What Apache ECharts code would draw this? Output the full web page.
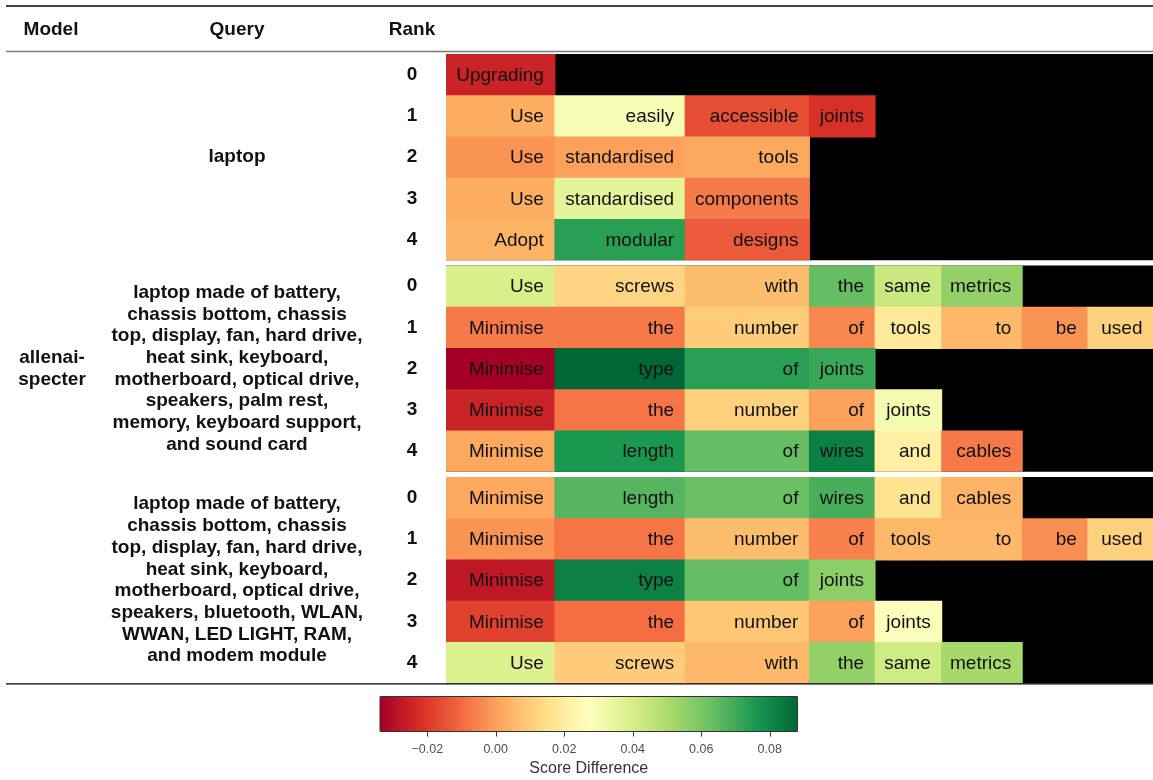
<!DOCTYPE html>
<html>
<head>
<meta charset="utf-8">
<script src="https://cdn.jsdelivr.net/npm/echarts@6/dist/echarts.min.js"></script>
<style>
html,body{margin:0;padding:0;background:#fff;}
#chart{width:1153px;height:780px;}
</style>
</head>
<body>
<div id="chart"></div>
<script>
// ---------------- DATA ----------------
const headers = ['Model', 'Query', 'Rank'];
const modelName = 'allenai-\nspecter';
const queries = [
  'laptop',
  'laptop made of battery,\nchassis bottom, chassis\ntop, display, fan, hard drive,\nheat sink, keyboard,\nmotherboard, optical drive,\nspeakers, palm rest,\nmemory, keyboard support,\nand sound card',
  'laptop made of battery,\nchassis bottom, chassis\ntop, display, fan, hard drive,\nheat sink, keyboard,\nmotherboard, optical drive,\nspeakers, bluetooth, WLAN,\nWWAN, LED LIGHT, RAM,\nand modem module'
];
const ranks = ['0', '1', '2', '3', '4'];

const words1 = [
  ['Upgrading'],
  ['Use', 'easily', 'accessible', 'joints'],
  ['Use', 'standardised', 'tools'],
  ['Use', 'standardised', 'components'],
  ['Adopt', 'modular', 'designs']
];
const scores1 = [
  [-0.025],
  [0.0028, 0.0296, -0.0155, -0.0216],
  [-0.0021, 0.0003, 0.0016],
  [0.0028, 0.0357, -0.0070],
  [0.0040, 0.0735, -0.0130]
];
const words2 = [
  ['Use', 'screws', 'with', 'the', 'same', 'metrics'],
  ['Minimise', 'the', 'number', 'of', 'tools', 'to', 'be', 'used'],
  ['Minimise', 'type', 'of', 'joints'],
  ['Minimise', 'the', 'number', 'of', 'joints'],
  ['Minimise', 'length', 'of', 'wires', 'and', 'cables']
];
const scores2 = [
  [0.0393, 0.0125, 0.0064, 0.0637, 0.0430, 0.0552],
  [-0.0070, -0.0070, 0.0100, -0.0046, 0.0186, 0.0052, -0.0021, 0.0113],
  [-0.0338, 0.0881, 0.0735, 0.0710],
  [-0.0250, -0.0080, 0.0113, 0.0003, 0.0308],
  [0.0016, 0.0760, 0.0637, 0.0820, 0.0210, -0.0070]
];
const words3 = [
  ['Minimise', 'length', 'of', 'wires', 'and', 'cables'],
  ['Minimise', 'the', 'number', 'of', 'tools', 'to', 'be', 'used'],
  ['Minimise', 'type', 'of', 'joints'],
  ['Minimise', 'the', 'number', 'of', 'joints'],
  ['Use', 'screws', 'with', 'the', 'same', 'metrics']
];
const scores3 = [
  [0.0016, 0.0662, 0.0625, 0.0686, 0.0162, 0.0040],
  [-0.0021, -0.0080, 0.0064, -0.0058, 0.0052, 0.0052, -0.0033, 0.0113],
  [-0.0277, 0.0820, 0.0637, 0.0564],
  [-0.0180, -0.0094, 0.0089, 0.0003, 0.0280],
  [0.0380, 0.0100, 0.0052, 0.0552, 0.0418, 0.0515]
];
const scoreMin = -0.0338, scoreMax = 0.0881;
const legendTicks = [-0.02, 0, 0.02, 0.04, 0.06, 0.08];
const legendTitle = 'Score Difference';

// ---------------- LAYOUT / STYLE ----------------
const FONT = '"Liberation Sans", Arial, Helvetica, sans-serif';
const TXT = '#111';
const palette = ['#a50026','#d73027','#f46d43','#fdae61','#fee08b','#ffffbf','#d9ef8b','#a6d96a','#66bd63','#1a9850','#006837'];
const colWidths = [109, 131, 125, 66, 67, 81, 66, 66];
const colEdges = [0];
colWidths.forEach(w => colEdges.push(colEdges[colEdges.length - 1] + w));
const totalW = colEdges[colEdges.length - 1];
const groupTops = [54, 265.5, 477];
const groupH = 206.3;
const tableLeft = 446;

const groups = [
  {words: words1, scores: scores1},
  {words: words2, scores: scores2},
  {words: words3, scores: scores3}
];

function buildData(g) {
  const out = [];
  g.scores.forEach((row, r) => row.forEach((v, c) => out.push([c, r, v])));
  return out;
}

function makeRender(gi) {
  return function (params, api) {
    const c = api.value(0), r = api.value(1);
    const word = groups[gi].words[r][c];
    const bandH = api.size([0, 1])[1];
    const p0 = api.coord([colEdges[c], r]);
    const p1 = api.coord([colEdges[c + 1], r]);
    const lastRow = r === groups[gi].scores.length - 1;
    return {
      type: 'group',
      children: [
        {type: 'rect', shape: {x: p0[0], y: p0[1] - bandH / 2, width: p1[0] - p0[0] + 1, height: bandH + (lastRow ? 0 : 1)},
         style: {fill: api.visual('color'), stroke: null}, z2: 0},
        {type: 'text', style: {text: word, x: p1[0] - 10.5, y: p0[1] + 1, align: 'right', verticalAlign: 'middle',
         font: '19px ' + FONT, fill: TXT}, z2: 10}
      ]
    };
  };
}

const grids = [], xAxes = [], yAxes = [], series = [];
const seriesY = [];
groups.forEach((g, gi) => {
  grids.push({left: tableLeft, top: groupTops[gi], width: totalW, height: groupH,
    show: true, backgroundColor: '#000', borderWidth: 0});
  xAxes.push({gridIndex: gi, type: 'value', min: 0, max: totalW, show: false});
  seriesY.push(yAxes.length);
  yAxes.push({gridIndex: gi, type: 'category', data: ranks, inverse: true, position: 'left',
    axisLine: {show: false}, axisTick: {show: false}, splitLine: {show: false},
    axisLabel: {interval: 0, margin: 34, align: 'center', fontFamily: FONT, fontSize: 19, fontWeight: 'bold', color: TXT}});
  yAxes.push({gridIndex: gi, type: 'category', data: [queries[gi]], position: 'left',
    axisLine: {show: false}, axisTick: {show: false}, splitLine: {show: false},
    axisLabel: {interval: 0, margin: tableLeft - 237, align: 'center', fontFamily: FONT, fontSize: 19,
      fontWeight: 'bold', color: TXT, lineHeight: 21.7}});
  if (gi === 1) {
    yAxes.push({gridIndex: gi, type: 'category', data: [modelName], position: 'left',
      axisLine: {show: false}, axisTick: {show: false}, splitLine: {show: false},
      axisLabel: {interval: 0, margin: tableLeft - 52, align: 'center', fontFamily: FONT, fontSize: 19,
        fontWeight: 'bold', color: TXT, lineHeight: 21.7}});
  }
});
groups.forEach((g, gi) => {
  series.push({type: 'custom', xAxisIndex: gi, yAxisIndex: seriesY[gi], data: buildData(g),
    encode: {x: 0, y: 1}, renderItem: makeRender(gi), clip: false, silent: true});
});

// legend axis grid
const legGrid = grids.length;
grids.push({left: 380, top: 696.5, width: 417.5, height: 35, show: true, backgroundColor: 'transparent',
  borderColor: '#333', borderWidth: 1, z: 8});
xAxes.push({gridIndex: legGrid, type: 'value', min: scoreMin, max: scoreMax, position: 'bottom',
  axisLine: {show: false}, splitLine: {show: false},
  axisTick: {show: true, customValues: legendTicks, length: 5, lineStyle: {color: '#333', width: 1}},
  axisLabel: {customValues: legendTicks, margin: 12, fontFamily: FONT, fontSize: 12.5, color: '#4d4d4d',
    formatter: v => (v < 0 ? '\u2212' : '') + Math.abs(v).toFixed(2)},
  name: legendTitle, nameLocation: 'middle', nameGap: 29,
  nameTextStyle: {fontFamily: FONT, fontSize: 16, color: '#333'}, z: 8});
yAxes.push({gridIndex: legGrid, type: 'value', show: false});

const chart = echarts.init(document.getElementById('chart'), null, {renderer: 'canvas'});
chart.setOption({
  animation: false,
  backgroundColor: '#fff',
  grid: grids,
  xAxis: xAxes,
  yAxis: yAxes,
  visualMap: {
    type: 'continuous', min: scoreMin, max: scoreMax, dimension: 2, seriesIndex: [0, 1, 2],
    orient: 'horizontal', left: 380, top: 696.5, itemWidth: 35, itemHeight: 417.5,
    calculable: false, realtime: false, padding: 0, text: null, showLabel: false,
    inRange: {color: palette}, hoverLink: false
  },
  graphic: [
    {type: 'line', shape: {x1: 6, y1: 6, x2: 1153, y2: 6}, style: {stroke: '#000', lineWidth: 1.5}, z: 20},
    {type: 'line', shape: {x1: 6, y1: 51.5, x2: 1153, y2: 51.5}, style: {stroke: '#7a7a7a', lineWidth: 1.5}, z: 20},
    {type: 'line', shape: {x1: 6, y1: 683.8, x2: 1153, y2: 683.8}, style: {stroke: '#000', lineWidth: 1.3}, z: 20},
    {type: 'text', style: {text: headers[0], x: 51, y: 30, align: 'center', verticalAlign: 'middle',
      font: 'bold 19px ' + FONT, fill: TXT}},
    {type: 'text', style: {text: headers[1], x: 237, y: 30, align: 'center', verticalAlign: 'middle',
      font: 'bold 19px ' + FONT, fill: TXT}},
    {type: 'text', style: {text: headers[2], x: 412, y: 30, align: 'center', verticalAlign: 'middle',
      font: 'bold 19px ' + FONT, fill: TXT}}
  ],
  series: series
});
</script>
</body>
</html>
